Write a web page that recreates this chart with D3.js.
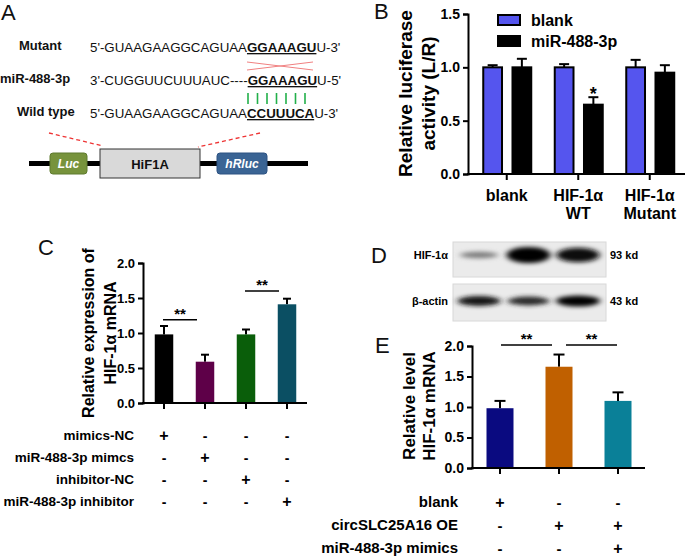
<!DOCTYPE html>
<html><head><meta charset="utf-8">
<script src="https://cdnjs.cloudflare.com/ajax/libs/d3/7.8.5/d3.min.js"></script>
<style>
body{margin:0;background:#fff;}
text{font-family:"Liberation Sans",Arial,sans-serif;}
</style></head>
<body><svg id="c" width="685" height="558"></svg>
<script>
// ---------- DATA ----------
// Panel B
const bGroups = ["blank", "HIF-1α WT", "HIF-1α Mutant"];
const bGroupLines = [["blank"], ["HIF-1α", "WT"], ["HIF-1α", "Mutant"]];
const bSeries = ["blank", "miR-488-3p"];
const bBlank = [1.0, 1.0, 1.0];
const bBlankErr = [0.02, 0.03, 0.07];
const bMir = [1.0, 0.65, 0.95];
const bMirErr = [0.08, 0.07, 0.07];
const bTicks = [0, 0.5, 1.0, 1.5];
// Panel C
const cGroups = ["mimics-NC", "miR-488-3p mimcs", "inhibitor-NC", "miR-488-3p inhibitor"];
const cValues = [0.98, 0.59, 0.98, 1.41];
const cErr = [0.12, 0.10, 0.07, 0.08];
const cTicks = [0, 0.5, 1.0, 1.5, 2.0];
const cTable = [["+", "-", "-", "-"], ["-", "+", "-", "-"], ["-", "-", "+", "-"], ["-", "-", "-", "+"]];
const cSig = [{from: 0, to: 1, y: 1.19}, {from: 2, to: 3, y: 1.6}];
// Panel D (western blot band intensities)
const dLanes = ["lane1", "lane2", "lane3"];
const dHif = [0.4, 1.0, 0.92];
const dActin = [0.9, 0.8, 1.0];
// Panel E
const eGroups = ["blank", "circSLC25A16 OE", "circSLC25A16 OE + mimics"];
const eValues = [0.98, 1.66, 1.10];
const eErr = [0.12, 0.20, 0.14];
const eTicks = [0, 0.5, 1.0, 1.5, 2.0];
const eRows = ["blank", "circSLC25A16 OE", "miR-488-3p mimics"];
const eTable = [["+", "-", "-"], ["-", "+", "+"], ["-", "-", "+"]];
const eSig = [{from: 0, to: 1, y: 2.0}, {from: 1, to: 2, y: 2.0}];

const svg = d3.select("#c");
const F = "Liberation Sans, Arial, sans-serif";

function label(t, x, y) {
  svg.append("text").attr("x", x).attr("y", y).attr("font-size", 22).attr("fill", "#111").text(t);
}
function yAxis(y, x0, ticks, fs) {
  const g = svg.append("g").attr("transform", `translate(${x0},0)`)
    .call(d3.axisLeft(y).tickValues(ticks).tickFormat(d3.format(".1f")).tickSize(5).tickPadding(3));
  g.select(".domain").attr("stroke", "#000").attr("stroke-width", 2);
  g.selectAll(".tick line").attr("stroke", "#000").attr("stroke-width", 2);
  g.selectAll(".tick text").attr("font-family", F).attr("font-weight", "bold").attr("font-size", fs).attr("fill", "#000");
  return g;
}
function xAxis(x, y0, xa, xb) {
  svg.append("line").attr("x1", xa).attr("x2", xb).attr("y1", y0).attr("y2", y0).attr("stroke", "#000").attr("stroke-width", 2);
  svg.append("g").selectAll("line").data(x.domain()).join("line")
    .attr("x1", d => x(d) + x.bandwidth() / 2).attr("x2", d => x(d) + x.bandwidth() / 2)
    .attr("y1", y0).attr("y2", y0 + 6).attr("stroke", "#000").attr("stroke-width", 2);
}
function errBars(data, cx, y, capW) {
  const g = svg.append("g").attr("stroke", "#000").attr("stroke-width", 2);
  data.forEach(d => {
    g.append("line").attr("x1", cx(d)).attr("x2", cx(d)).attr("y1", y(d.v)).attr("y2", y(d.v + d.e));
    g.append("line").attr("x1", cx(d) - capW / 2).attr("x2", cx(d) + capW / 2).attr("y1", y(d.v + d.e)).attr("y2", y(d.v + d.e));
  });
}
function yLabel(lines, cx, cy, fs, gap) {
  const t = svg.append("text").attr("transform", `translate(${cx},${cy}) rotate(-90)`)
    .attr("text-anchor", "middle").attr("font-weight", "bold").attr("font-size", fs).attr("fill", "#000");
  lines.forEach((l, i) => t.append("tspan").attr("x", 0).attr("dy", i === 0 ? -(lines.length - 1) * gap / 2 + fs * 0.35 : gap).text(l));
}

// ---------- PANEL A ----------
label("A", 1, 20);
const seqX = 90, fsA = 13.3;
const seqs = [
  {name: "Mutant", nx: 19, y: 52, pre: "5'-GUAAGAAGGCAGUAA", core: "GGAAAGU", post: "U-3'"},
  {name: "miR-488-3p", nx: 0, y: 85, pre: "3'-CUGGUUCUUUAUC----", core: "GGAAAGU", post: "U-5'"},
  {name: "Wild type", nx: 17, y: 118, pre: "5'-GUAAGAAGGCAGUAA", core: "CCUUUCA", post: "U-3'"}
];
seqs.forEach(s => {
  svg.append("text").attr("x", s.nx).attr("y", s.y - 2).attr("font-size", 13).attr("font-weight", "bold").attr("fill", "#111").text(s.name);
  const t = svg.append("text").attr("x", seqX).attr("y", s.y).attr("font-size", fsA).attr("fill", "#111");
  t.append("tspan").text(s.pre);
  t.append("tspan").attr("font-weight", "bold").attr("text-decoration", "underline").text(s.core);
  t.append("tspan").text(s.post);
});
// red cross
svg.append("line").attr("x1", 247).attr("y1", 62).attr("x2", 313).attr("y2", 70).attr("stroke", "#f08080").attr("stroke-width", 1);
svg.append("line").attr("x1", 247).attr("y1", 70).attr("x2", 313).attr("y2", 62).attr("stroke", "#f08080").attr("stroke-width", 1);
// green pairing lines
svg.append("g").selectAll("line").data(d3.range(7)).join("line")
  .attr("x1", i => 248 + i * 9.5).attr("x2", i => 248 + i * 9.5).attr("y1", 93).attr("y2", 104)
  .attr("stroke", "#22b04a").attr("stroke-width", 1.6);
// dashed red
svg.append("line").attr("x1", 49).attr("y1", 133).attr("x2", 103).attr("y2", 146).attr("stroke", "#ee3333").attr("stroke-width", 1.3).attr("stroke-dasharray", "4,3");
svg.append("line").attr("x1", 260).attr("y1", 133).attr("x2", 198).attr("y2", 147).attr("stroke", "#ee3333").attr("stroke-width", 1.3).attr("stroke-dasharray", "4,3");
// backbone
svg.append("line").attr("x1", 29).attr("x2", 308).attr("y1", 163.5).attr("y2", 163.5).attr("stroke", "#000").attr("stroke-width", 5);
svg.append("rect").attr("x", 50).attr("y", 153).attr("width", 37).attr("height", 21).attr("rx", 3).attr("fill", "#77933c").attr("stroke", "#5f7a2e");
svg.append("text").attr("x", 68.5).attr("y", 168).attr("text-anchor", "middle").attr("font-size", 12).attr("font-style", "italic").attr("font-weight", "bold").attr("fill", "#fff").attr("font-family", "Open Sans, sans-serif").text("Luc");
svg.append("rect").attr("x", 100).attr("y", 149).attr("width", 100).attr("height", 29).attr("fill", "#d9d9d9").attr("stroke", "#333").attr("stroke-width", 1);
svg.append("text").attr("x", 150).attr("y", 168.5).attr("text-anchor", "middle").attr("font-size", 13).attr("font-weight", "bold").attr("fill", "#111").attr("font-family", "Open Sans, sans-serif").text("HiF1A");
svg.append("rect").attr("x", 217).attr("y", 153).attr("width", 50).attr("height", 21).attr("rx", 3).attr("fill", "#3a6494").attr("stroke", "#2c5282");
svg.append("text").attr("x", 242).attr("y", 168).attr("text-anchor", "middle").attr("font-size", 12).attr("font-style", "italic").attr("font-weight", "bold").attr("fill", "#fff").attr("font-family", "Open Sans, sans-serif").text("hRluc");

// ---------- PANEL B ----------
label("B", 374, 19);
const yB = d3.scaleLinear().domain([0, 1.5]).range([174, 14]);
const xB = d3.scaleBand().domain(bGroups).range([471, 685.5]).padding(0);
const xB1 = d3.scaleBand().domain(bSeries).range([-24.5, 25.5]).paddingInner(0.29);
const bColors = {"blank": "#5555ee", "miR-488-3p": "#000"};
const bData = [];
bGroups.forEach((g, i) => {
  bData.push({g, s: "blank", v: bBlank[i], e: bBlankErr[i]});
  bData.push({g, s: "miR-488-3p", v: bMir[i], e: bMirErr[i]});
});
const bcx = d => xB(d.g) + xB.bandwidth() / 2 + xB1(d.s) + xB1.bandwidth() / 2;
errBars(bData, bcx, yB, 10);
svg.append("g").selectAll("rect").data(bData).join("rect")
  .attr("x", d => bcx(d) - xB1.bandwidth() / 2 + 1).attr("width", xB1.bandwidth() - 2)
  .attr("y", d => yB(d.v)).attr("height", d => yB(0) - yB(d.v))
  .attr("fill", d => bColors[d.s]).attr("stroke", "#000").attr("stroke-width", 2);
yAxis(yB, 468, bTicks, 14);
xAxis(xB, 174, 467, 685);
svg.append("g").selectAll("text").data(bGroups).join("text")
  .attr("text-anchor", "middle").attr("font-weight", "bold").attr("font-size", 16).attr("fill", "#000")
  .attr("x", d => xB(d) + xB.bandwidth() / 2).attr("y", 201)
  .each(function(d, i) {
    bGroupLines[i].forEach((l, j) => d3.select(this).append("tspan").attr("x", xB(d) + xB.bandwidth() / 2).attr("dy", j ? 18 : 0).text(l));
  });
// significance star
svg.append("text").attr("x", bcx(bData[3])).attr("y", yB(bMir[1] + bMirErr[1]) + 3).attr("text-anchor", "middle").attr("font-size", 18).attr("font-weight", "bold").text("*");
yLabel(["Relative luciferase", "activity (L/R)"], 417, 93.5, 19, 22.5);
// legend
const leg = svg.append("g");
bSeries.forEach((s, i) => {
  leg.append("rect").attr("x", 498).attr("y", 15 + i * 21).attr("width", 22).attr("height", 10).attr("fill", bColors[s]).attr("stroke", "#000").attr("stroke-width", 2);
  leg.append("text").attr("x", 531).attr("y", 26 + i * 21).attr("font-size", 16).attr("font-weight", "bold").text(s);
});

// ---------- PANEL C ----------
label("C", 38, 255);
const yC = d3.scaleLinear().domain([0, 2]).range([403, 263]);
const xC = d3.scaleBand().domain(cGroups).range([143.5, 307.5]).padding(0);
const cColors = ["#000000", "#5e0048", "#0a5e0a", "#0b4f63"];
const cData = cGroups.map((g, i) => ({g, v: cValues[i], e: cErr[i], c: cColors[i]}));
const ccx = d => xC(d.g) + xC.bandwidth() / 2;
const cW = 18.5;
errBars(cData, ccx, yC, 8);
svg.append("g").selectAll("rect").data(cData).join("rect")
  .attr("x", d => ccx(d) - cW / 2).attr("width", cW)
  .attr("y", d => yC(d.v)).attr("height", d => yC(0) - yC(d.v)).attr("fill", d => d.c);
yAxis(yC, 143, cTicks, 13);
xAxis(xC, 403, 142, 307);
yLabel(["Relative expression of", "HIF-1α mRNA"], 99, 333, 16, 22);
cSig.forEach(s => {
  const x1 = ccx(cData[s.from]) - 1, x2 = ccx(cData[s.to]) - 8;
  svg.append("line").attr("x1", x1).attr("x2", x2).attr("y1", yC(s.y)).attr("y2", yC(s.y)).attr("stroke", "#000").attr("stroke-width", 1.5);
  svg.append("text").attr("x", (x1 + x2) / 2).attr("y", yC(s.y) - 1).attr("text-anchor", "middle").attr("font-size", 15).attr("font-weight", "bold").text("**");
});
cGroups.forEach((r, i) => {
  svg.append("text").attr("x", 134).attr("y", 440 + i * 22).attr("text-anchor", "end").attr("font-size", 13.5).attr("font-weight", "bold").text(r);
  cTable[i].forEach((sym, j) => {
    svg.append("text").attr("x", ccx(cData[j])).attr("y", 441 + i * 22).attr("text-anchor", "middle")
      .attr("font-size", sym === "+" ? 16 : 14).attr("font-weight", "bold").text(sym);
  });
});

// ---------- PANEL D ----------
label("D", 371, 263);
const defs = svg.append("defs");
defs.append("filter").attr("id", "blur").attr("x", "-30%").attr("y", "-80%").attr("width", "160%").attr("height", "260%")
  .append("feGaussianBlur").attr("stdDeviation", "3,2");
const xD = d3.scalePoint().domain(dLanes).range([479, 578]);
const boxes = [{y: 242, h: 35, data: dHif, cy: 255, name: "HIF-1α", kd: "93 kd", hmax: 16},
               {y: 284, h: 37, data: dActin, cy: 301, name: "β-actin", kd: "43 kd", hmax: 11}];
boxes.forEach(b => {
  svg.append("rect").attr("x", 453).attr("y", b.y).attr("width", 153).attr("height", b.h).attr("fill", "#ebebeb").attr("stroke", "#d8d8d8");
  const g = svg.append("g").attr("filter", "url(#blur)");
  dLanes.forEach((l, i) => {
    const v = b.data[i];
    g.append("ellipse").attr("cx", xD(l)).attr("cy", b.cy).attr("rx", 17 + 5 * v).attr("ry", b.hmax * v / 2)
      .attr("fill", d3.interpolateRgb("#d0d0d0", "#000")(v));
  });
  svg.append("text").attr("x", 448).attr("y", b.cy + 4).attr("text-anchor", "end").attr("font-size", 11).attr("font-weight", "bold").text(b.name);
  svg.append("text").attr("x", 610).attr("y", b.cy + 4).attr("font-size", 11).attr("font-weight", "bold").text(b.kd);
});

// ---------- PANEL E ----------
label("E", 375, 353);
const yE = d3.scaleLinear().domain([0, 2]).range([468, 346]);
const xE = d3.scaleBand().domain(eGroups).range([470.5, 647.5]).padding(0);
const eColors = ["#0a0a80", "#c06000", "#0a8098"];
const eData = eGroups.map((g, i) => ({g, v: eValues[i], e: eErr[i], c: eColors[i]}));
const ecx = d => xE(d.g) + xE.bandwidth() / 2;
const eW = 27;
errBars(eData, ecx, yE, 11);
svg.append("g").selectAll("rect").data(eData).join("rect")
  .attr("x", d => ecx(d) - eW / 2).attr("width", eW)
  .attr("y", d => yE(d.v)).attr("height", d => yE(0) - yE(d.v)).attr("fill", d => d.c);
yAxis(yE, 472, eTicks, 14);
xAxis(xE, 468, 471, 645);
yLabel(["Relative level", "HIF-1α mRNA"], 419, 406, 17, 20);
eSig.forEach((s, k) => {
  const x1 = ecx(eData[s.from]) + (k ? 7 : 1), x2 = ecx(eData[s.to]) - (k ? 1 : 7);
  svg.append("line").attr("x1", x1).attr("x2", x2).attr("y1", yE(s.y) - 1).attr("y2", yE(s.y) - 1).attr("stroke", "#000").attr("stroke-width", 1.5);
  svg.append("text").attr("x", (x1 + x2) / 2).attr("y", yE(s.y) - 2).attr("text-anchor", "middle").attr("font-size", 15).attr("font-weight", "bold").text("**");
});
eRows.forEach((r, i) => {
  svg.append("text").attr("x", 458).attr("y", 507 + i * 23).attr("text-anchor", "end").attr("font-size", 15).attr("font-weight", "bold").text(r);
  eTable[i].forEach((sym, j) => {
    svg.append("text").attr("x", ecx(eData[j])).attr("y", 508 + i * 23).attr("text-anchor", "middle")
      .attr("font-size", sym === "+" ? 16 : 15).attr("font-weight", "bold").text(sym);
  });
});
</script></body></html>
